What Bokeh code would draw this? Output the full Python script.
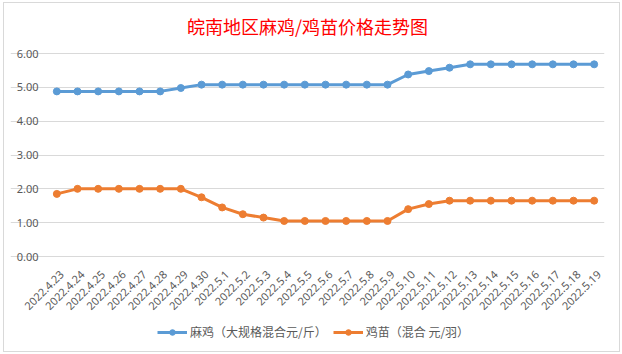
from bokeh.plotting import figure
from bokeh.models import Range1d, Legend, LegendItem, FixedTicker
from bokeh.core.properties import value
from bokeh.embed import file_html
from bokeh.resources import INLINE
from math import pi

dates = ["2022.4.23", "2022.4.24", "2022.4.25", "2022.4.26", "2022.4.27", "2022.4.28",
         "2022.4.29", "2022.4.30", "2022.5.1", "2022.5.2", "2022.5.3", "2022.5.4",
         "2022.5.5", "2022.5.6", "2022.5.7", "2022.5.8", "2022.5.9", "2022.5.10",
         "2022.5.11", "2022.5.12", "2022.5.13", "2022.5.14", "2022.5.15", "2022.5.16",
         "2022.5.17", "2022.5.18", "2022.5.19"]
maji = [4.88, 4.88, 4.88, 4.88, 4.88, 4.88, 4.98, 5.08, 5.08, 5.08, 5.08, 5.08,
        5.08, 5.08, 5.08, 5.08, 5.08, 5.38, 5.48, 5.58, 5.68, 5.68, 5.68, 5.68,
        5.68, 5.68, 5.68]
jimiao = [1.85, 2.00, 2.00, 2.00, 2.00, 2.00, 2.00, 1.75, 1.45, 1.25, 1.15, 1.05,
          1.05, 1.05, 1.05, 1.05, 1.05, 1.40, 1.55, 1.65, 1.65, 1.65, 1.65, 1.65,
          1.65, 1.65, 1.65]
y_ticks = [0, 1, 2, 3, 4, 5, 6]
y_tick_labels = ["0.00", "1.00", "2.00", "3.00", "4.00", "5.00", "6.00"]
series_names = ["麻鸡（大规格混合元/斤）", "鸡苗（混合 元/羽）"]
title_text = "皖南地区麻鸡/鸡苗价格走势图"

BLUE = "#5B9BD5"
ORANGE = "#ED7D31"
GRID = "#D9D9D9"
TXT = "#595959"

# layout (pixels)
CAT_W = 558 / len(dates)     # width of one category slot
LEFT_GUTTER = 36             # room left of the first slot for the value labels
PLOT_H = 203                 # height of the 0..6 value band
TOP_PAD = 8                  # room above 6.00 so its label is not clipped
FRAME_H = 301                # frame extends below 0 to hold date labels and legend
FRAME_W = 558 + LEFT_GUTTER

xs = list(range(len(dates)))
x_lo = -0.5 - LEFT_GUTTER / CAT_W
x_hi = len(dates) - 0.5
px_per_unit = PLOT_H / 6.0
y_max = 6.0 + TOP_PAD / px_per_unit
y_min = -(FRAME_H - PLOT_H - TOP_PAD) / px_per_unit

p = figure(frame_width=FRAME_W, frame_height=FRAME_H,
           x_range=Range1d(x_lo, x_hi), y_range=Range1d(y_min, y_max),
           output_backend="svg", toolbar_location=None,
           min_border_left=6, min_border_right=15, min_border_top=42, min_border_bottom=5)
p.margin = (2, 0, 0, 3)
p.styles = {"border": "1px solid #D9D9D9"}

p.title.text = title_text
p.title.align = "center"
p.title.vertical_align = "top"
p.title.text_color = "#FF0000"
p.title.text_font = "Noto Sans CJK SC"
p.title.text_font_size = "18px"
p.title.text_font_style = "normal"
p.title.standoff = 10

p.outline_line_color = None
p.xaxis.visible = False
p.yaxis.visible = False
p.xgrid.grid_line_color = None
p.ygrid.ticker = FixedTicker(ticks=y_ticks)
p.ygrid.grid_line_color = GRID
p.ygrid.grid_line_width = 1
p.ygrid.bounds = (-0.5, x_hi)

# value labels on the left of the grid
p.text(x=[-0.5] * len(y_ticks), y=y_ticks, text=y_tick_labels,
       text_align="right", text_baseline="middle", x_offset=-8,
       text_font=value("Noto Sans"), text_font_size="11px", text_color=TXT)

# category labels, rotated 45 degrees, hanging below the zero line
p.text(x=xs, y=[0] * len(dates), text=dates, angle=pi / 4,
       text_align="right", text_baseline="middle", x_offset=5, y_offset=16,
       text_font=value("Noto Sans"), text_font_size="11px", text_color=TXT)

l1 = p.line(xs, maji, line_color=BLUE, line_width=3)
c1 = p.scatter(xs, maji, size=7, fill_color=BLUE, line_color=BLUE)
l2 = p.line(xs, jimiao, line_color=ORANGE, line_width=3)
c2 = p.scatter(xs, jimiao, size=7, fill_color=ORANGE, line_color=ORANGE)

legend = Legend(items=[LegendItem(label=series_names[0], renderers=[l1, c1]),
                       LegendItem(label=series_names[1], renderers=[l2, c2])],
                orientation="horizontal", location=(147, 6),
                label_text_font="Noto Sans CJK SC", label_text_font_size="12px",
                label_text_color=TXT, glyph_width=30, glyph_height=14,
                label_standoff=3, spacing=6, padding=0, margin=0,
                border_line_color=None, background_fill_alpha=0)
p.add_layout(legend, "center")

open("out.html", "w").write(file_html(p, INLINE))
